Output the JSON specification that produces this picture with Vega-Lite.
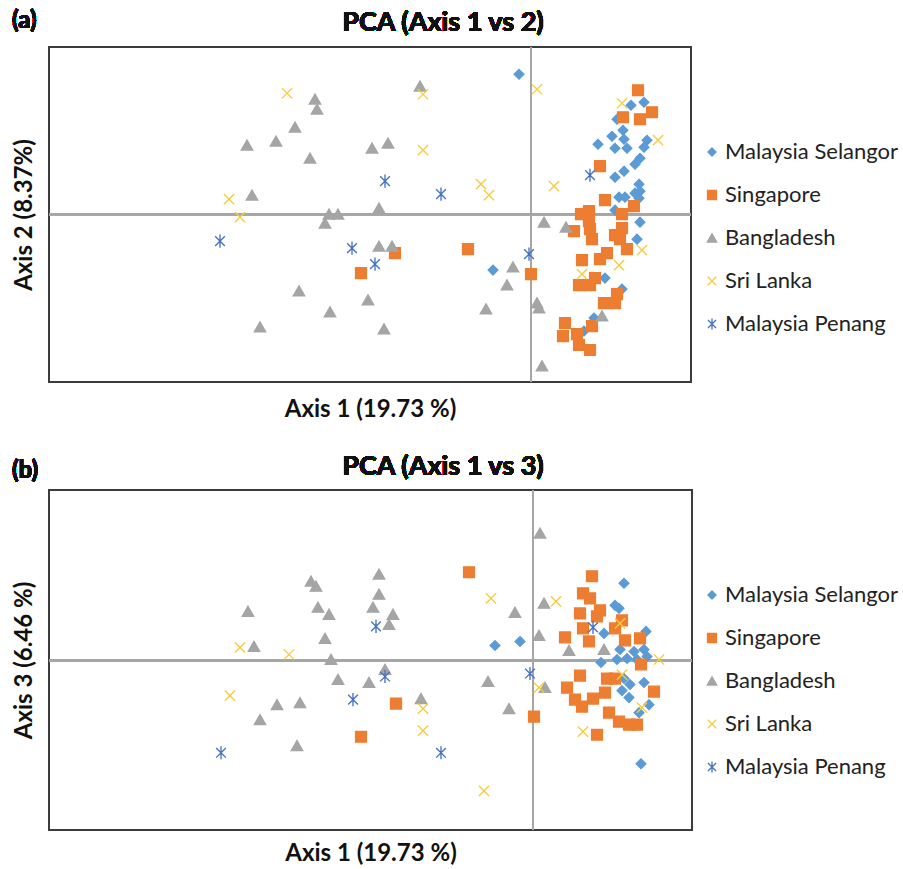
{
  "$schema": "https://vega.github.io/schema/vega-lite/v6.json",
  "background": "white",
  "padding": {"left": 10, "top": 8, "right": 0, "bottom": 0},
  "spacing": 29,
  "datasets": {
    "a": [
      {"g":"Malaysia Selangor","x":-0.12,"y":1.40},{"g":"Malaysia Selangor","x":-0.38,"y":-0.56},{"g":"Malaysia Selangor","x":1.00,"y":1.09},{"g":"Malaysia Selangor","x":1.13,"y":1.12},{"g":"Malaysia Selangor","x":0.86,"y":0.95},{"g":"Malaysia Selangor","x":0.92,"y":0.84},{"g":"Malaysia Selangor","x":0.81,"y":0.78},{"g":"Malaysia Selangor","x":0.93,"y":0.75},{"g":"Malaysia Selangor","x":0.67,"y":0.70},{"g":"Malaysia Selangor","x":0.84,"y":0.66},{"g":"Malaysia Selangor","x":0.96,"y":0.66},{"g":"Malaysia Selangor","x":1.16,"y":0.74},{"g":"Malaysia Selangor","x":1.13,"y":0.67},{"g":"Malaysia Selangor","x":1.09,"y":0.56},{"g":"Malaysia Selangor","x":1.04,"y":0.50},{"g":"Malaysia Selangor","x":0.93,"y":0.43},{"g":"Malaysia Selangor","x":0.84,"y":0.37},{"g":"Malaysia Selangor","x":1.08,"y":0.30},{"g":"Malaysia Selangor","x":1.09,"y":0.23},{"g":"Malaysia Selangor","x":1.04,"y":0.21},{"g":"Malaysia Selangor","x":0.88,"y":0.17},{"g":"Malaysia Selangor","x":0.94,"y":0.17},{"g":"Malaysia Selangor","x":1.08,"y":0.16},{"g":"Malaysia Selangor","x":0.84,"y":0.04},{"g":"Malaysia Selangor","x":1.09,"y":-0.08},{"g":"Malaysia Selangor","x":1.06,"y":-0.25},{"g":"Malaysia Selangor","x":0.74,"y":-0.64},{"g":"Malaysia Selangor","x":0.91,"y":-0.75},{"g":"Malaysia Selangor","x":0.63,"y":-1.04},{"g":"Malaysia Selangor","x":0.53,"y":-1.17},
      {"g":"Singapore","x":-1.36,"y":-0.39},{"g":"Singapore","x":-1.70,"y":-0.59},{"g":"Singapore","x":-0.63,"y":-0.35},{"g":"Singapore","x":1.07,"y":1.24},{"g":"Singapore","x":1.21,"y":1.02},{"g":"Singapore","x":0.92,"y":0.97},{"g":"Singapore","x":1.09,"y":0.95},{"g":"Singapore","x":0.69,"y":0.48},{"g":"Singapore","x":0.74,"y":0.14},{"g":"Singapore","x":1.03,"y":0.08},{"g":"Singapore","x":0.58,"y":0.03},{"g":"Singapore","x":0.50,"y":0.00},{"g":"Singapore","x":0.91,"y":0.00},{"g":"Singapore","x":0.58,"y":-0.07},{"g":"Singapore","x":0.43,"y":-0.17},{"g":"Singapore","x":0.59,"y":-0.15},{"g":"Singapore","x":0.61,"y":-0.25},{"g":"Singapore","x":0.91,"y":-0.14},{"g":"Singapore","x":0.84,"y":-0.21},{"g":"Singapore","x":0.89,"y":-0.25},{"g":"Singapore","x":0.96,"y":-0.35},{"g":"Singapore","x":0.76,"y":-0.39},{"g":"Singapore","x":0.69,"y":-0.45},{"g":"Singapore","x":0.51,"y":-0.46},{"g":"Singapore","x":0.00,"y":-0.60},{"g":"Singapore","x":0.64,"y":-0.64},{"g":"Singapore","x":0.48,"y":-0.71},{"g":"Singapore","x":0.59,"y":-0.71},{"g":"Singapore","x":0.86,"y":-0.80},{"g":"Singapore","x":0.73,"y":-0.89},{"g":"Singapore","x":0.84,"y":-0.89},{"g":"Singapore","x":0.34,"y":-1.09},{"g":"Singapore","x":0.61,"y":-1.12},{"g":"Singapore","x":0.32,"y":-1.22},{"g":"Singapore","x":0.46,"y":-1.20},{"g":"Singapore","x":0.48,"y":-1.31},{"g":"Singapore","x":0.59,"y":-1.36},
      {"g":"Bangladesh","x":-2.84,"y":0.69},{"g":"Bangladesh","x":-2.55,"y":0.73},{"g":"Bangladesh","x":-2.79,"y":0.19},{"g":"Bangladesh","x":-2.71,"y":-1.13},{"g":"Bangladesh","x":-2.32,"y":-0.77},{"g":"Bangladesh","x":-2.16,"y":1.15},{"g":"Bangladesh","x":-2.14,"y":1.05},{"g":"Bangladesh","x":-2.36,"y":0.87},{"g":"Bangladesh","x":-2.21,"y":0.56},{"g":"Bangladesh","x":-1.59,"y":0.66},{"g":"Bangladesh","x":-1.43,"y":0.71},{"g":"Bangladesh","x":-1.11,"y":1.28},{"g":"Bangladesh","x":-1.52,"y":0.06},{"g":"Bangladesh","x":-2.02,"y":0.00},{"g":"Bangladesh","x":-1.93,"y":0.00},{"g":"Bangladesh","x":-2.06,"y":-0.09},{"g":"Bangladesh","x":-1.52,"y":-0.32},{"g":"Bangladesh","x":-1.39,"y":-0.32},{"g":"Bangladesh","x":-0.18,"y":-0.53},{"g":"Bangladesh","x":-0.24,"y":-0.71},{"g":"Bangladesh","x":-2.01,"y":-0.98},{"g":"Bangladesh","x":-1.63,"y":-0.86},{"g":"Bangladesh","x":-0.45,"y":-0.95},{"g":"Bangladesh","x":-1.47,"y":-1.15},{"g":"Bangladesh","x":0.13,"y":-0.08},{"g":"Bangladesh","x":0.35,"y":-0.13},{"g":"Bangladesh","x":0.06,"y":-0.89},{"g":"Bangladesh","x":0.08,"y":-0.94},{"g":"Bangladesh","x":0.71,"y":-1.02},{"g":"Bangladesh","x":0.11,"y":-1.52},
      {"g":"Sri Lanka","x":-2.44,"y":1.21},{"g":"Sri Lanka","x":-3.02,"y":0.15},{"g":"Sri Lanka","x":-2.91,"y":-0.03},{"g":"Sri Lanka","x":-1.08,"y":1.20},{"g":"Sri Lanka","x":-1.08,"y":0.64},{"g":"Sri Lanka","x":-0.50,"y":0.30},{"g":"Sri Lanka","x":-0.42,"y":0.19},{"g":"Sri Lanka","x":0.06,"y":1.25},{"g":"Sri Lanka","x":0.91,"y":1.11},{"g":"Sri Lanka","x":1.27,"y":0.74},{"g":"Sri Lanka","x":0.23,"y":0.28},{"g":"Sri Lanka","x":1.11,"y":-0.36},{"g":"Sri Lanka","x":0.88,"y":-0.51},{"g":"Sri Lanka","x":0.51,"y":-0.60},
      {"g":"Malaysia Penang","x":-3.11,"y":-0.27},{"g":"Malaysia Penang","x":-1.46,"y":0.33},{"g":"Malaysia Penang","x":-0.90,"y":0.20},{"g":"Malaysia Penang","x":-1.79,"y":-0.34},{"g":"Malaysia Penang","x":-1.56,"y":-0.50},{"g":"Malaysia Penang","x":0.59,"y":0.39},{"g":"Malaysia Penang","x":-0.02,"y":-0.40}
    ],
    "b": [
      {"g":"Malaysia Selangor","x":-0.38,"y":0.15},{"g":"Malaysia Selangor","x":-0.13,"y":0.19},{"g":"Malaysia Selangor","x":0.91,"y":0.77},{"g":"Malaysia Selangor","x":0.82,"y":0.55},{"g":"Malaysia Selangor","x":0.86,"y":0.52},{"g":"Malaysia Selangor","x":0.71,"y":0.27},{"g":"Malaysia Selangor","x":1.13,"y":0.29},{"g":"Malaysia Selangor","x":0.87,"y":0.11},{"g":"Malaysia Selangor","x":1.01,"y":0.09},{"g":"Malaysia Selangor","x":1.11,"y":0.11},{"g":"Malaysia Selangor","x":0.68,"y":-0.02},{"g":"Malaysia Selangor","x":0.84,"y":0.01},{"g":"Malaysia Selangor","x":1.04,"y":0.01},{"g":"Malaysia Selangor","x":0.94,"y":0.02},{"g":"Malaysia Selangor","x":1.14,"y":0.04},{"g":"Malaysia Selangor","x":0.91,"y":-0.18},{"g":"Malaysia Selangor","x":0.97,"y":-0.24},{"g":"Malaysia Selangor","x":0.89,"y":-0.30},{"g":"Malaysia Selangor","x":1.11,"y":-0.22},{"g":"Malaysia Selangor","x":0.96,"y":-0.37},{"g":"Malaysia Selangor","x":1.16,"y":-0.44},{"g":"Malaysia Selangor","x":1.06,"y":-0.52},{"g":"Malaysia Selangor","x":1.08,"y":-1.03},
      {"g":"Singapore","x":-1.37,"y":-0.43},{"g":"Singapore","x":-1.72,"y":-0.76},{"g":"Singapore","x":-0.64,"y":0.88},{"g":"Singapore","x":0.59,"y":0.84},{"g":"Singapore","x":0.50,"y":0.67},{"g":"Singapore","x":0.57,"y":0.62},{"g":"Singapore","x":0.47,"y":0.47},{"g":"Singapore","x":0.67,"y":0.50},{"g":"Singapore","x":0.64,"y":0.44},{"g":"Singapore","x":0.89,"y":0.40},{"g":"Singapore","x":0.50,"y":0.32},{"g":"Singapore","x":0.82,"y":0.32},{"g":"Singapore","x":0.32,"y":0.23},{"g":"Singapore","x":0.56,"y":0.19},{"g":"Singapore","x":0.92,"y":0.20},{"g":"Singapore","x":1.07,"y":0.22},{"g":"Singapore","x":1.08,"y":-0.04},{"g":"Singapore","x":0.47,"y":-0.15},{"g":"Singapore","x":0.34,"y":-0.27},{"g":"Singapore","x":0.74,"y":-0.18},{"g":"Singapore","x":0.82,"y":-0.18},{"g":"Singapore","x":1.21,"y":-0.31},{"g":"Singapore","x":0.42,"y":-0.39},{"g":"Singapore","x":0.49,"y":-0.46},{"g":"Singapore","x":0.60,"y":-0.38},{"g":"Singapore","x":0.72,"y":-0.32},{"g":"Singapore","x":0.76,"y":-0.52},{"g":"Singapore","x":0.86,"y":-0.61},{"g":"Singapore","x":0.96,"y":-0.64},{"g":"Singapore","x":1.04,"y":-0.64},{"g":"Singapore","x":0.01,"y":-0.56},{"g":"Singapore","x":0.64,"y":-0.74},
      {"g":"Bangladesh","x":-2.85,"y":0.49},{"g":"Bangladesh","x":-2.79,"y":0.14},{"g":"Bangladesh","x":-2.56,"y":-0.44},{"g":"Bangladesh","x":-2.73,"y":-0.59},{"g":"Bangladesh","x":-2.36,"y":-0.85},{"g":"Bangladesh","x":-2.22,"y":0.79},{"g":"Bangladesh","x":-2.17,"y":0.74},{"g":"Bangladesh","x":-1.54,"y":0.86},{"g":"Bangladesh","x":-1.54,"y":0.66},{"g":"Bangladesh","x":-2.15,"y":0.53},{"g":"Bangladesh","x":-2.04,"y":0.46},{"g":"Bangladesh","x":-1.60,"y":0.53},{"g":"Bangladesh","x":-1.40,"y":0.46},{"g":"Bangladesh","x":-1.44,"y":0.36},{"g":"Bangladesh","x":-2.08,"y":0.22},{"g":"Bangladesh","x":-2.02,"y":0.01},{"g":"Bangladesh","x":-1.95,"y":-0.19},{"g":"Bangladesh","x":-1.64,"y":-0.22},{"g":"Bangladesh","x":-1.48,"y":-0.09},{"g":"Bangladesh","x":-2.33,"y":-0.42},{"g":"Bangladesh","x":-1.12,"y":-0.38},{"g":"Bangladesh","x":-0.18,"y":0.48},{"g":"Bangladesh","x":-0.45,"y":-0.21},{"g":"Bangladesh","x":-0.24,"y":-0.48},{"g":"Bangladesh","x":0.07,"y":1.27},{"g":"Bangladesh","x":0.11,"y":0.57},{"g":"Bangladesh","x":0.06,"y":0.25},{"g":"Bangladesh","x":0.36,"y":0.10},{"g":"Bangladesh","x":0.71,"y":0.11},{"g":"Bangladesh","x":0.12,"y":-0.27},
      {"g":"Sri Lanka","x":-2.93,"y":0.13},{"g":"Sri Lanka","x":-2.44,"y":0.06},{"g":"Sri Lanka","x":-3.03,"y":-0.35},{"g":"Sri Lanka","x":-1.10,"y":-0.48},{"g":"Sri Lanka","x":-1.10,"y":-0.70},{"g":"Sri Lanka","x":-0.49,"y":-1.30},{"g":"Sri Lanka","x":-0.42,"y":0.62},{"g":"Sri Lanka","x":0.23,"y":0.59},{"g":"Sri Lanka","x":0.87,"y":0.37},{"g":"Sri Lanka","x":1.26,"y":0.01},{"g":"Sri Lanka","x":0.06,"y":-0.27},{"g":"Sri Lanka","x":0.89,"y":-0.14},{"g":"Sri Lanka","x":1.09,"y":-0.47},{"g":"Sri Lanka","x":0.50,"y":-0.71},
      {"g":"Malaysia Penang","x":-3.12,"y":-0.92},{"g":"Malaysia Penang","x":-1.57,"y":0.34},{"g":"Malaysia Penang","x":-1.48,"y":-0.16},{"g":"Malaysia Penang","x":-1.80,"y":-0.39},{"g":"Malaysia Penang","x":-0.92,"y":-0.92},{"g":"Malaysia Penang","x":0.60,"y":0.33},{"g":"Malaysia Penang","x":-0.03,"y":-0.13}
    ]
  },
  "vconcat": [
    {
      "width": 642,
      "height": 335,
      "data": {"name": "a"},
      "layer": [
        {"mark": {"type": "rule", "color": "#a6a6a6", "strokeWidth": 2}, "encoding": {"x": {"datum": 0, "type": "quantitative"}}},
        {"mark": {"type": "rule", "color": "#a6a6a6", "strokeWidth": 2}, "encoding": {"y": {"datum": 0, "type": "quantitative"}}},
        {
          "mark": {"type": "point", "filled": true, "size": 130, "strokeWidth": 1.35, "opacity": 1},
          "encoding": {
            "x": {"field": "x", "type": "quantitative", "scale": {"domain": [-4.82, 1.6], "nice": false, "zero": false}, "axis": {"title": "Axis 1 (19.73 %)", "titlePadding": 15}},
            "y": {"field": "y", "type": "quantitative", "scale": {"domain": [-1.68, 1.673], "nice": false, "zero": false}, "axis": {"title": "Axis 2 (8.37%)"}},
            "shape": {"field": "g", "type": "nominal", "title": null, "scale": {"domain": ["Malaysia Selangor", "Singapore", "Bangladesh", "Sri Lanka", "Malaysia Penang"], "range": ["M0,-0.85L0.85,0L0,0.85L-0.85,0Z", "M-0.95,-0.95H0.95V0.95H-0.95Z", "M0,-0.9L1,0.85H-1Z", "M-0.9,-0.9L0.9,0.9M0.9,-0.9L-0.9,0.9", "M-0.85,-0.85L0.85,0.85M0.85,-0.85L-0.85,0.85M0,-1.15V1.15"]}},
            "fill": {"field": "g", "type": "nominal", "title": null, "scale": {"domain": ["Malaysia Selangor", "Singapore", "Bangladesh", "Sri Lanka", "Malaysia Penang"], "range": ["#5B9BD5", "#ED7D31", "#A5A5A5", "#F9CB3C", "#4472C4"]}},
            "stroke": {"field": "g", "type": "nominal", "title": null, "scale": {"domain": ["Malaysia Selangor", "Singapore", "Bangladesh", "Sri Lanka", "Malaysia Penang"], "range": ["#5B9BD5", "#ED7D31", "#A5A5A5", "#F9CB3C", "#4472C4"]}}
          }
        },
        {"mark": {"type": "text", "fontSize": 24, "fontWeight": "bold", "font": "Lato", "align": "left", "baseline": "middle", "color": "#111"}, "encoding": {"x": {"datum": -5.19, "type": "quantitative"}, "y": {"datum": 1.93, "type": "quantitative"}, "text": {"value": "(a)"}}},
        {"mark": {"type": "text", "fontSize": 27, "fontWeight": "bold", "font": "Lato", "align": "center", "baseline": "middle", "color": "#111"}, "encoding": {"x": {"datum": -0.88, "type": "quantitative"}, "y": {"datum": 1.91, "type": "quantitative"}, "text": {"value": "PCA (Axis 1 vs 2)"}}}
      ]
    },
    {
      "width": 643,
      "height": 340,
      "data": {"name": "b"},
      "layer": [
        {"mark": {"type": "rule", "color": "#a6a6a6", "strokeWidth": 2}, "encoding": {"x": {"datum": 0, "type": "quantitative"}}},
        {"mark": {"type": "rule", "color": "#a6a6a6", "strokeWidth": 2}, "encoding": {"y": {"datum": 0, "type": "quantitative"}}},
        {
          "mark": {"type": "point", "filled": true, "size": 130, "strokeWidth": 1.35, "opacity": 1},
          "encoding": {
            "x": {"field": "x", "type": "quantitative", "scale": {"domain": [-4.84, 1.59], "nice": false, "zero": false}, "axis": {"title": "Axis 1 (19.73 %)", "titlePadding": 11}},
            "y": {"field": "y", "type": "quantitative", "scale": {"domain": [-1.69, 1.70], "nice": false, "zero": false}, "axis": {"title": "Axis 3 (6.46 %)"}},
            "shape": {"field": "g", "type": "nominal", "title": null, "scale": {"domain": ["Malaysia Selangor", "Singapore", "Bangladesh", "Sri Lanka", "Malaysia Penang"], "range": ["M0,-0.85L0.85,0L0,0.85L-0.85,0Z", "M-0.95,-0.95H0.95V0.95H-0.95Z", "M0,-0.9L1,0.85H-1Z", "M-0.9,-0.9L0.9,0.9M0.9,-0.9L-0.9,0.9", "M-0.85,-0.85L0.85,0.85M0.85,-0.85L-0.85,0.85M0,-1.15V1.15"]}},
            "fill": {"field": "g", "type": "nominal", "title": null, "scale": {"domain": ["Malaysia Selangor", "Singapore", "Bangladesh", "Sri Lanka", "Malaysia Penang"], "range": ["#5B9BD5", "#ED7D31", "#A5A5A5", "#F9CB3C", "#4472C4"]}},
            "stroke": {"field": "g", "type": "nominal", "title": null, "scale": {"domain": ["Malaysia Selangor", "Singapore", "Bangladesh", "Sri Lanka", "Malaysia Penang"], "range": ["#5B9BD5", "#ED7D31", "#A5A5A5", "#F9CB3C", "#4472C4"]}}
          }
        },
        {"mark": {"type": "text", "fontSize": 24, "fontWeight": "bold", "font": "Lato", "align": "left", "baseline": "middle", "color": "#111"}, "encoding": {"x": {"datum": -5.21, "type": "quantitative"}, "y": {"datum": 1.89, "type": "quantitative"}, "text": {"value": "(b)"}}},
        {"mark": {"type": "text", "fontSize": 27, "fontWeight": "bold", "font": "Lato", "align": "center", "baseline": "middle", "color": "#111"}, "encoding": {"x": {"datum": -0.90, "type": "quantitative"}, "y": {"datum": 1.93, "type": "quantitative"}, "text": {"value": "PCA (Axis 1 vs 3)"}}}
      ]
    }
  ],
  "resolve": {
    "scale": {"x": "independent", "y": "independent"},
    "legend": {"fill": "independent", "stroke": "independent", "shape": "independent"}
  },
  "config": {
    "view": {"stroke": "#3c3c3c", "strokeWidth": 2},
    "axis": {"labels": false, "ticks": false, "grid": false, "domain": false, "titleFont": "Lato", "titleFontSize": 24, "titleFontWeight": "bold", "titleColor": "#111"},
    "axisY": {"titlePadding": 13},
    "legend": {"orient": "none", "legendX": 652, "legendY": 94, "labelFont": "Lato", "labelFontSize": 22, "labelColor": "#222", "labelLimit": 400, "rowPadding": 21, "symbolSize": 90, "labelOffset": 2, "padding": 0, "symbolStrokeWidth": 1.3}
  }
}
